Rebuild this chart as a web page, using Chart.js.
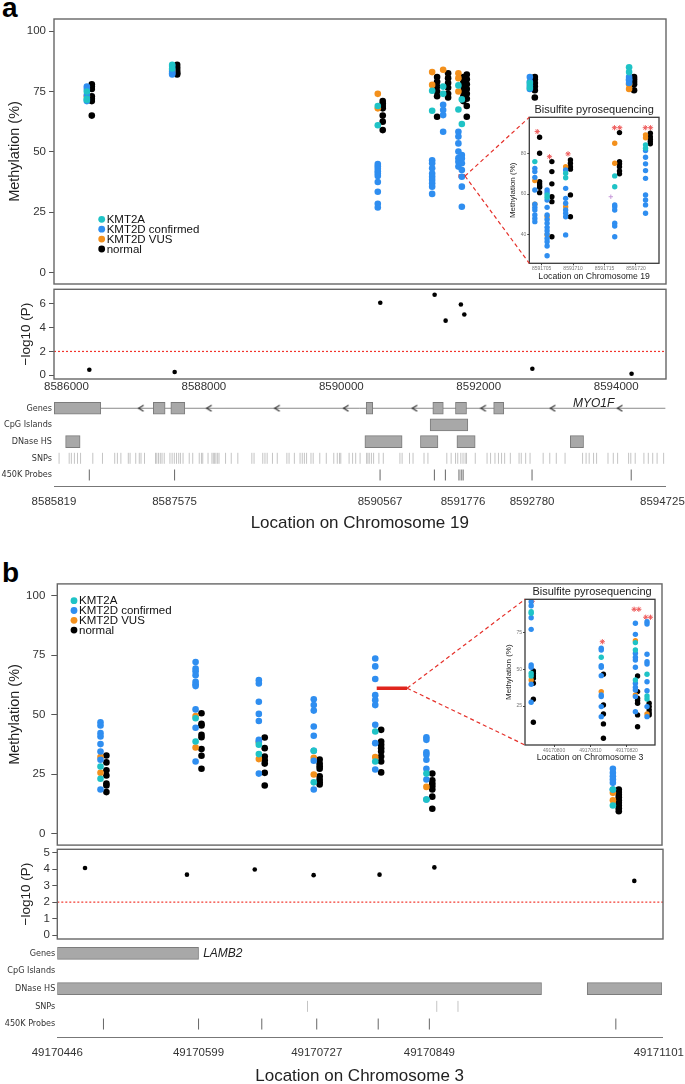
<!DOCTYPE html>
<html>
<head>
<meta charset="utf-8">
<title>Methylation at MYO1F and LAMB2</title>
<script src="https://cdn.jsdelivr.net/npm/chart.js@4.4.1/dist/chart.umd.min.js"></script>
<style>
  html, body { margin: 0; padding: 0; background: #fff; overflow: hidden; }
  #fig { position: relative; width: 685px; height: 1084px; background: #fff; overflow: hidden; }
  #fig canvas { position: absolute; }
  .panel { position: absolute; left: 2px; font: bold 28px 'Liberation Sans', Arial, sans-serif; line-height: 1; color: #000; }
</style>
</head>
<body>
<div id="fig">
  <div class="panel" style="top:-6px">a</div>
  <div class="panel" style="top:559px">b</div>
</div>
<script>
// ---- groups ----
const groupLabels = ['KMT2A', 'KMT2D confirmed', 'KMT2D VUS', 'normal'];
const groupColors = ['#1fc3c6', '#2f8ef0', '#f3901c', '#000000'];
const methylTicks = [0, 25, 50, 75, 100];

// ---- panel a : chromosome 19, MYO1F ----
const rangeA = [8585819, 8594725];
const colPosA = [8586333, 8587575, 8590567, 8591358, 8591518, 8591740, 8591790, 8592780, 8594224];
const kmt2aA = [[75, 72, 71.5], [86, 84.5], [69, 61], [75.3, 67], [77, 74], [77.5, 67.5], [71.7, 61.5], [78.5, 76.5], [85, 83]];
const kmt2dA = [[77, 76, 73.5, 71], [85.5, 84, 83, 82.5, 82], [45, 44, 43, 42, 41, 40, 37.5, 33.5, 28.5, 27],
  [46.5, 45.3, 43.2, 41, 39.7, 38.4, 37, 35.6, 32.6], [69.5, 67.3, 65.2, 58.3], [58.3, 56.3, 53.5, 50.1, 47.4, 45.9, 43.9],
  [48.7, 47.3, 45.3, 42.5, 39.7, 35.6, 27.3], [81, 79, 77.5, 76], [81, 80, 79.5, 78.5]];
const vusA = [[73], [83.5], [74, 68], [83, 77.7], [84], [82.5, 80.5, 75], [], [], [78, 76]];
const normalA = [[78, 77, 76, 73, 72, 71, 65], [86, 85, 84, 83, 82.5, 82], [71, 70, 69, 68, 65, 62.5, 59],
  [81, 79, 77, 75, 73, 64.5], [82.5, 80.5, 78.5, 76.5, 74, 72.5], [81, 79, 77, 75, 73, 71],
  [82, 80, 78, 76, 74, 72, 69, 64.5], [81, 80, 78.5, 77, 75.5, 72.5], [81, 80, 79, 78, 75.5]];
const pvalA = [0.47, 0.28, 6.08, 6.75, 4.58, 5.94, 5.1, 0.55, 0.13];
const pTicksA = [0, 2, 4, 6];
const xTicksA = [8586000, 8588000, 8590000, 8592000, 8594000];
const markerA = [8591705, 8591800];
const markerValA = 40;

const exonsA = [[8585823, 8586500], [8587265, 8587437], [8587520, 8587724], [8590365, 8590460], [8591335, 8591488], [8591665, 8591826], [8592221, 8592368]];
const intronA = [8585819, 8594725];
const arrowsA = [8587087, 8588078, 8589069, 8590071, 8591072, 8592072, 8593082, 8594059];
const cpgA = [[8591296, 8591845]];
const dnaseA = [[8585988, 8586199], [8590346, 8590888], [8591155, 8591410], [8591686, 8591952], [8593337, 8593530]];
const snpA = [8585893, 8586040, 8586072, 8586116, 8586161, 8586206, 8586384, 8586525, 8586703, 8586742, 8586793, 8586901,
  8586927, 8587009, 8587061, 8587086, 8587137, 8587297, 8587316, 8587341, 8587367, 8587392, 8587424, 8587507, 8587539,
  8587571, 8587603, 8587635, 8587660, 8587698, 8587788, 8587839, 8587934, 8587966, 8587985, 8588062, 8588119, 8588139,
  8588158, 8588177, 8588202, 8588222, 8588317, 8588400, 8588496, 8588700, 8588732, 8588859, 8588891, 8588923, 8589000,
  8589070, 8589210, 8589242, 8589319, 8589402, 8589434, 8589465, 8589497, 8589561, 8589593, 8589689, 8589784, 8589893,
  8589944, 8589976, 8589995, 8590116, 8590167, 8590212, 8590276, 8590371, 8590390, 8590410, 8590441, 8590473, 8590550,
  8590614, 8590856, 8590888, 8590996, 8591047, 8591207, 8591264, 8591539, 8591602, 8591666, 8591698, 8591743, 8591775,
  8591806, 8591826, 8591953, 8592125, 8592176, 8592240, 8592291, 8592336, 8592381, 8592464, 8592591, 8592623, 8592687,
  8592751, 8592942, 8593038, 8593133, 8593261, 8593516, 8593567, 8593612, 8593676, 8593720, 8593886, 8593963, 8594026,
  8594186, 8594218, 8594282, 8594409, 8594473, 8594537, 8594601, 8594696];
const probesA = [8586333, 8587575, 8590567, 8591358, 8591518, 8591716, 8591748, 8591776, 8592780, 8594224];
const trackTicksA = [8585819, 8587575, 8590567, 8591776, 8592780, 8594725];
const geneA = 'MYO1F';
const genePosA = 8593676;

// inset a: bisulfite pyrosequencing
const insRangeA = [8591703.04, 8591723.66];
const insPosA = [8591704.3, 8591706.25, 8591709.2, 8591717, 8591721.9];
const insKmt2aA = [[75.9], [59.6, 58.4], [70.2, 68], [68.9, 63.6], [84.1, 82.5]];
const insKmt2dA = [[72.6, 71, 68.2, 62, 55, 53.5, 52.2, 49.8, 48.1, 46.5],
  [62, 60.7, 57.1, 53.5, 49.8, 47.6, 45.7, 43.7, 42.1, 40.4, 38.3, 36.7, 34.6, 29.8],
  [71.8, 62.8, 57.9, 55.5, 52.2, 50.6, 48.9, 40], [54.7, 53.8, 52.2, 45.7, 44.4, 39.1],
  [81.3, 78, 74.8, 71.5, 67.7, 59.6, 57.1, 54.7, 50.6]];
const insVusA = [[66.6, 55], [48.9, 40], [73.4, 53.8], [84.9, 75.1], [89, 87.6]];
const insNormalA = [[87.8, 80, 66.1, 65, 64, 63.3, 60.7], [75.9, 71, 65, 58.7, 56.3, 39.1],
  [76.7, 75.1, 73.4, 72.2, 59.6, 48.9], [90.1, 75.9, 74.8, 73.4, 71.3, 69.9], [89.8, 88.1, 86.9, 85.7, 84.6]];
const insStarValA = [90.6, 78.3, 79.7, 92.5, 92.5];
const insStarsA = [1, 1, 1, 2, 2];
const insOutlierA = [{ x: 8591716.0, y: 58.7 }];
const insXTicksA = [8591705, 8591710, 8591715, 8591720];
const insYTicksA = [40, 60, 80];

// ---- panel b : chromosome 3, LAMB2 ----
const rangeB = [49170446, 49171101];
const pRangeB = [49170468, 49171080];
const colPosB = [49170496, 49170599, 49170667.5, 49170727, 49170793.6, 49170849, 49171051];
const kmt2aB = [[28.2, 23], [48.5, 38.7], [37.3, 33.4], [34.8, 21.5], [42.9, 30.3], [25.2, 14.3], [18.5, 11.8]];
const kmt2dB = [[46.8, 45.4, 42.2, 40.8, 37.6, 34.5, 31, 18.5], [72.1, 69.4, 68.2, 66.6, 63.8, 62.8, 62, 52.2, 44.5, 30.3],
  [64.5, 63.1, 55.4, 50.3, 47.3, 39.4, 38.7, 25.2], [56.5, 54, 51.7, 45, 41.1, 34.8, 30.6, 18.5],
  [73.6, 70.3, 65, 58.2, 56.1, 54, 45.7, 38, 26.9], [40.5, 39.4, 34.1, 33.1, 31, 27.2, 22.7, 14.3],
  [27.2, 25.5, 24.1, 22.7, 21.3, 18.5]];
const vusB = [[32.2, 25.5], [49.4, 36.2], [38.3, 31.3], [31.8, 24.8], [32.2], [19.6], [17.1, 14]];
const normalB = [[32.8, 29.9, 26.6, 24.4, 21, 20.2, 17.4], [50.6, 46.1, 45.4, 41.5, 40.5, 35.5, 32.7, 27.2],
  [40.4, 35.9, 32.4, 30.8, 29.4, 25.5, 20.2], [31.1, 29.4, 28.3, 27.2, 24.1, 22.7, 21.6, 20.6],
  [43.6, 38.7, 37.3, 35.9, 34.5, 32.4, 30.3, 25.7], [25.2, 22.4, 21, 19.9, 18.5, 15.5, 10.4],
  [18.5, 17.4, 16.3, 15.2, 14, 12.9, 11.8, 10.6, 9.4]];
const pvalB = [4.07, 3.67, 3.98, 3.64, 3.67, 4.11, 3.29];
const pTicksB = [0, 1, 2, 3, 4, 5];
const markerB = [49170792, 49170825];
const markerValB = 61.1;

const exonsB = [[49170446, 49170599]];
const arrowsB = [49170451, 49170456];
const cpgB = [];
const dnaseB = [[49170446, 49170970.5], [49171020, 49171101]];
const snpB = [49170717, 49170857, 49170880];
const probesB = [49170496, 49170599, 49170667.5, 49170727, 49170793.6, 49170849, 49171051];
const trackTicksB = [49170446, 49170599, 49170727, 49170849, 49171101];
const geneB = 'LAMB2';
const genePosB = 49170604;

// inset b
const insRangeB = [49170792, 49170827.8];
const insPosB = [49170794, 49170813.3, 49170822.7, 49170825.9];
const insKmt2aB = [[89, 87.9, 47.2, 45.4], [58.1], [68, 63, 42.7], [46.5, 31.8, 29.8]];
const insKmt2dB = [[95.7, 93, 84.9, 77, 52.8, 51.3, 39.8, 27.6], [64.2, 63, 52.4, 51.3, 45.6, 32.5, 31.4, 24.6, 17.8],
  [81.1, 73.6, 60.8, 58.1, 56.2, 51.3, 40.4, 37.7, 35.9, 31.4, 21.2], [82.2, 80.6, 60.1, 55.1, 53.5, 41.5, 35.4, 24.6, 17.8]];
const insVusB = [[42.7], [34.8], [69.3, 32.5], [19.6]];
const insNormalB = [[48.8, 47.2, 45.4, 43.8, 40.4, 29.6, 14], [46.5, 25.7, 19.6, 12.9, 3.2],
  [45.4, 34.8, 30.3, 28.7, 26.9, 19, 11], [26.9, 24.6, 22.4, 20.5, 19]];
const insStarValB = [96, 68.6, 90.6, 85.2];
const insStarsB = [1, 1, 2, 2];
const insXTicksB = [49170800, 49170810, 49170820];
const insYTicksB = [25, 50, 75];

const trackRows = ['Genes', 'CpG Islands', 'DNase HS', 'SNPs', '450K Probes'];
const pThreshold = 2;

// ---- helpers ----
const SANS = "'Liberation Sans', Arial, Helvetica, sans-serif";
const NARROW = "'Liberation Sans Narrow', 'DejaVu Sans Condensed', 'Liberation Sans', sans-serif";
Chart.defaults.font.family = SANS;

function addCanvas(left, top, w, h) {
  const c = document.createElement('canvas');
  c.width = w; c.height = h;
  c.style.left = left + 'px'; c.style.top = top + 'px';
  c.style.width = w + 'px'; c.style.height = h + 'px';
  document.getElementById('fig').appendChild(c);
  return c;
}

function fixedTicks(values) {
  return scale => { scale.ticks = values.map(v => ({ value: v })); };
}

function spread(pos, cols, off) {
  const pts = [];
  cols.forEach((vals, i) => vals.forEach(v => pts.push({ x: pos[i] + off, y: v })));
  return pts;
}

function groupSets(pos, groups, off, r) {
  return groups.map((cols, g) => ({
    label: groupLabels[g],
    data: spread(pos, cols, g === 3 ? off : -off),
    backgroundColor: groupColors[g],
    pointRadius: r,
    pointBorderWidth: 0
  }));
}

function starSet(pos, vals, counts, gap) {
  const pts = [];
  pos.forEach((p, i) => {
    if (counts[i] === 1) pts.push({ x: p, y: vals[i] });
    else { pts.push({ x: p - gap, y: vals[i] }); pts.push({ x: p + gap, y: vals[i] }); }
  });
  return { data: pts, pointStyle: 'star', pointRadius: 2.6, pointBorderColor: '#ee5b5b', pointBorderWidth: 1, backgroundColor: '#ee5b5b' };
}

function chevron(color) {
  const c = document.createElement('canvas');
  c.width = 8; c.height = 8;
  const g = c.getContext('2d');
  g.strokeStyle = color; g.lineWidth = 1.2;
  g.beginPath(); g.moveTo(6.5, 1); g.lineTo(1.5, 4); g.lineTo(6.5, 7); g.stroke();
  return c;
}

const boxPlugin = {
  id: 'box',
  afterDatasetsDraw(chart, args, opts) {
    const a = chart.chartArea, ctx = chart.ctx;
    ctx.save();
    ctx.strokeStyle = opts.color;
    ctx.lineWidth = opts.width;
    ctx.strokeRect(a.left, a.top, a.right - a.left, a.bottom - a.top);
    ctx.restore();
  }
};

const dotLegend = {
  id: 'dotLegend',
  afterDatasetsDraw(chart, args, opts) {
    const ctx = chart.ctx;
    ctx.save();
    ctx.font = '11.5px ' + SANS;
    ctx.textBaseline = 'middle';
    chart.data.datasets.filter(d => groupLabels.includes(d.label)).forEach((d, i) => {
      const y = opts.y + i * opts.gap;
      ctx.fillStyle = d.backgroundColor;
      ctx.beginPath(); ctx.arc(opts.x, y, 3.4, 0, Math.PI * 2); ctx.fill();
      ctx.fillStyle = '#111';
      ctx.fillText(d.label, opts.x + 5, y + 0.5);
    });
    ctx.restore();
  }
};

const insetTitle = {
  id: 'insetTitle',
  afterDraw(chart, args, opts) {
    const a = chart.chartArea, ctx = chart.ctx;
    ctx.save();
    ctx.font = '11px ' + SANS;
    ctx.fillStyle = '#222';
    ctx.textAlign = 'center'; ctx.textBaseline = 'middle';
    ctx.fillText('Bisulfite pyrosequencing', (a.left + a.right) / 2 + opts.dx, a.top - opts.dy);
    ctx.restore();
  }
};

const geneName = {
  id: 'geneName',
  afterDatasetsDraw(chart, args, opts) {
    const ctx = chart.ctx;
    const x = chart.scales.x.getPixelForValue(opts.pos);
    const y = chart.scales.y.getPixelForValue(0);
    ctx.save();
    ctx.font = 'italic 12px ' + SANS;
    ctx.fillStyle = '#222';
    ctx.textAlign = opts.align; ctx.textBaseline = opts.baseline;
    ctx.fillText(opts.text, x, y + opts.dy);
    ctx.restore();
  }
};

function yScale(min, max, ticks, width, title, titleSize, titlePad, tickLen, tickPad) {
  return {
    type: 'linear', min, max,
    afterBuildTicks: fixedTicks(ticks),
    afterFit: s => { s.width = width; },
    grid: { drawOnChartArea: false, drawTicks: true, tickLength: tickLen, color: '#555' },
    border: { display: false },
    ticks: { font: { size: 11.5 }, color: '#333', padding: tickPad, callback: v => String(v) },
    title: { display: true, text: title, color: '#222', font: { size: titleSize }, padding: { top: titlePad, bottom: 0 } }
  };
}

const quiet = { legend: { display: false }, tooltip: { enabled: false } };

function methylChart(rect, padding, xr, yr, yw, tickLen, tickPad, groups, pos, off, marker, markerVal, legendAt) {
  const c = addCanvas(...rect);
  const sets = groupSets(pos, groups, off, 3.3);
  sets.push({ data: [{ x: marker[0], y: markerVal }, { x: marker[1], y: markerVal }], showLine: true,
    borderColor: '#e0251d', borderWidth: 3.5, borderCapStyle: 'butt', pointRadius: 0 });
  return new Chart(c, {
    type: 'scatter',
    data: { datasets: sets },
    options: {
      responsive: false, animation: false, events: [],
      layout: { padding },
      scales: {
        x: { type: 'linear', display: false, min: xr[0], max: xr[1] },
        y: yScale(yr[0], yr[1], methylTicks, yw, 'Methylation (%)', 14.5, 6, tickLen, tickPad)
      },
      plugins: { ...quiet, box: { color: '#666', width: 1.4 }, dotLegend: legendAt }
    },
    plugins: [boxPlugin, dotLegend]
  });
}

function pvalChart(rect, padding, xr, yr, yw, yTicks, pos, vals, xTicks, xh, tickPad) {
  const c = addCanvas(...rect);
  const x = xTicks ? {
    type: 'linear', min: xr[0], max: xr[1],
    afterBuildTicks: fixedTicks(xTicks),
    afterFit: s => { s.height = xh; },
    grid: { display: false, drawTicks: false },
    border: { display: false },
    ticks: { font: { size: 11.5 }, color: '#333', padding: 1, maxRotation: 0, autoSkip: false, callback: v => String(v) }
  } : { type: 'linear', display: false, min: xr[0], max: xr[1] };
  return new Chart(c, {
    type: 'scatter',
    data: {
      datasets: [
        { data: pos.map((p, i) => ({ x: p, y: vals[i] })), backgroundColor: '#000', pointRadius: 2.3, pointBorderWidth: 0 },
        { data: [{ x: xr[0], y: pThreshold }, { x: xr[1], y: pThreshold }], showLine: true, borderColor: '#f2352c',
          borderWidth: 1.2, borderDash: [2, 2], pointRadius: 0 }
      ]
    },
    options: {
      responsive: false, animation: false, events: [],
      layout: { padding },
      scales: { x, y: yScale(yr[0], yr[1], yTicks, yw, '\u2212log10 (P)', 13.5, 18, 5, tickPad) },
      plugins: { ...quiet, box: { color: '#666', width: 1.4 } }
    },
    plugins: [boxPlugin]
  });
}

function trackChart(rect, padding, yw, xh, xr, yr, xTicks, xTitle, tickPad, parts, gene) {
  const c = addCanvas(...rect);
  const boxes = [];
  parts.exons.forEach(e => boxes.push({ x: e, y: 0 }));
  parts.cpg.forEach(e => boxes.push({ x: e, y: 1 }));
  parts.dnase.forEach(e => boxes.push({ x: e, y: 2 }));
  const sets = [
    { type: 'bar', indexAxis: 'y', data: boxes, barThickness: 12, backgroundColor: '#a8a8a8',
      borderColor: '#7c7c7c', borderWidth: 1, borderSkipped: false },
    { data: parts.arrows.map(x => ({ x, y: 0 })), pointStyle: chevron(parts.arrowColor), pointRadius: 4 },
    { data: parts.snps.map(x => ({ x, y: 3 })), pointStyle: 'line', pointRotation: 90, pointRadius: 5.5,
      pointBorderColor: '#c4c4c4', pointBorderWidth: 1 },
    { data: parts.probes.map(x => ({ x, y: 4 })), pointStyle: 'line', pointRotation: 90, pointRadius: 5.5,
      pointBorderColor: '#666', pointBorderWidth: 1 }
  ];
  if (parts.intron.length) {
    sets.push({ data: parts.intron.map(x => ({ x, y: 0 })), showLine: true, borderColor: '#8a8a8a', borderWidth: 1, pointRadius: 0 });
  }
  return new Chart(c, {
    type: 'scatter',
    data: { datasets: sets },
    options: {
      responsive: false, animation: false, events: [],
      layout: { padding },
      scales: {
        x: {
          type: 'linear', min: xr[0], max: xr[1], offset: false, beginAtZero: false,
          afterBuildTicks: fixedTicks(xTicks),
          afterFit: s => { s.height = xh; },
          grid: { display: false, drawTicks: false, offset: false },
          border: { display: true, color: '#777', width: 1 },
          // the last label is nudged left by a figure space so it stays inside the page
          ticks: { font: { size: 11.5 }, color: '#333', padding: tickPad, maxRotation: 0, autoSkip: false,
            callback: (v, i, arr) => i === arr.length - 1 ? String(v) + '\u2007' : String(v) },
          title: { display: true, text: xTitle, color: '#222', font: { size: 17 }, padding: { top: 0, bottom: 0 } }
        },
        y: {
          type: 'linear', reverse: true, min: yr[0], max: yr[1], offset: false,
          afterBuildTicks: fixedTicks([0, 1, 2, 3, 4]),
          afterFit: s => { s.width = yw; },
          grid: { display: false, drawTicks: false, offset: false },
          border: { display: false },
          ticks: { font: { family: NARROW, size: 9 }, color: '#333', padding: 2, callback: v => trackRows[v] }
        }
      },
      plugins: { ...quiet, geneName: gene }
    },
    plugins: [geneName]
  });
}

function insetChart(rect, padding, yw, xh, xr, yr, xTicks, yTicks, xTitle, yTitlePad, titleDx, sets) {
  const c = addCanvas(...rect);
  return new Chart(c, {
    type: 'scatter',
    data: { datasets: sets },
    options: {
      responsive: false, animation: false, events: [],
      layout: { padding },
      scales: {
        x: {
          type: 'linear', min: xr[0], max: xr[1],
          afterBuildTicks: fixedTicks(xTicks),
          afterFit: s => { s.height = xh; },
          grid: { drawOnChartArea: false, drawTicks: true, tickLength: 2, color: '#444' },
          border: { display: false },
          ticks: { font: { size: 5 }, color: '#777', padding: 0.5, maxRotation: 0, autoSkip: false, callback: v => String(v) },
          title: { display: true, text: xTitle, color: '#222', font: { size: 8.7 }, padding: { top: 0, bottom: 1.8 } }
        },
        y: {
          type: 'linear', min: yr[0], max: yr[1],
          afterBuildTicks: fixedTicks(yTicks),
          afterFit: s => { s.width = yw; },
          grid: { drawOnChartArea: false, drawTicks: true, tickLength: 2, color: '#444' },
          border: { display: false },
          ticks: { font: { size: 5 }, color: '#777', padding: 1, callback: v => String(v) },
          title: { display: true, text: 'Methylation (%)', color: '#222', font: { size: 8 }, padding: { top: yTitlePad, bottom: 0 } }
        }
      },
      plugins: { ...quiet, box: { color: '#3a3a3a', width: 1.3 }, insetTitle: { dx: titleDx, dy: 7.5 } }
    },
    plugins: [boxPlugin, insetTitle]
  });
}

function insetSets(pos, groups, off, stars, starVals, starGap, extra) {
  const sets = groupSets(pos, groups, off, 2.7);
  sets.push(starSet(pos, starVals, stars, starGap));
  if (extra) sets.push({ data: extra, pointStyle: 'cross', pointRadius: 2.2, pointBorderColor: '#c79ad9', pointBorderWidth: 1 });
  return sets;
}

// ---- panel a ----
const mA = methylChart([0, 7, 700, 290], { top: 12, right: 34, bottom: 13, left: 0 }, rangeA, [-4.68, 104.97], 54, 5, 3,
  [kmt2aA, kmt2dA, vusA, normalA], colPosA, 36, markerA, markerValA, { x: 101.7, y: 212.3, gap: 9.9 });

pvalChart([0, 277, 700, 120], { top: 12.3, right: 34, bottom: 0, left: 0 }, rangeA, [-0.31, 7.21], 54, pTicksA,
  colPosA, pvalA, xTicksA, 18, 3);

trackChart([0, 392, 700, 142], { top: 7.6, right: 34, bottom: 0, left: 0 }, 54, 48, rangeA, [-0.52, 4.66],
  trackTicksA, 'Location on Chromosome 19', 8.8,
  { exons: exonsA, cpg: cpgA, dnase: dnaseA, intron: intronA, arrows: arrowsA, arrowColor: '#333', snps: snpA, probes: probesA },
  { text: geneA, pos: genePosA, align: 'center', baseline: 'bottom', dy: 1 });

const iA = insetChart([498, 100, 166, 184], { top: 17.3, right: 1.3, bottom: 0, left: 0 }, 31.3, 20.7, insRangeA, [26.1, 97.6],
  insXTicksA, insYTicksA, 'Location on Chromosome 19', 10.2, 0,
  insetSets(insPosA, [insKmt2aA, insKmt2dA, insVusA, insNormalA], 0.38, insStarsA, insStarValA, 0.42, insOutlierA));

// ---- panel b ----
const mB = methylChart([0, 571, 700, 287], { top: 12, right: 38, bottom: 12, left: 0 }, rangeB, [-4.89, 105.0], 57.3, 6, 6,
  [kmt2aB, kmt2dB, vusB, normalB], colPosB, 3.2, markerB, markerValB, { x: 74, y: 29.7, gap: 9.8 });

pvalChart([0, 837, 700, 114], { top: 12.3, right: 37, bottom: 12, left: 0 }, pRangeB, [-0.24, 5.21], 57.3, pTicksB,
  colPosB, pvalB, null, 0, 2.5);

trackChart([0, 937, 700, 150], { top: 7.5, right: 38, bottom: 0, left: 0 }, 57.3, 49.7, rangeB, [-0.5, 4.75],
  trackTicksB, 'Location on Chromosome 3', 9,
  { exons: exonsB, cpg: cpgB, dnase: dnaseB, intron: [], arrows: arrowsB, arrowColor: '#111', snps: snpB, probes: probesB },
  { text: geneB, pos: genePosB, align: 'left', baseline: 'middle', dy: 0 });

const iB = insetChart([490, 582, 170, 183], { top: 17.3, right: 5, bottom: 0, left: 0 }, 35, 20, insRangeB, [-1.42, 97.36],
  insXTicksB, insYTicksB, 'Location on Chromosome 3', 13.5, 2,
  insetSets(insPosB, [insKmt2aB, insKmt2dB, insVusB, insNormalB], 0.3, insStarsB, insStarValB, 0.65, null));

// ---- zoom connectors from the red marker to the inset ----
const overlay = addCanvas(0, 0, 685, 1084);
const octx = overlay.getContext('2d');
function connector(main, mainTop, marker, value, inset, insetLeft, insetTop) {
  const x0 = main.scales.x.getPixelForValue(marker[1]);
  const y0 = mainTop + main.scales.y.getPixelForValue(value);
  const a = inset.chartArea;
  octx.save();
  octx.strokeStyle = '#e5302a'; octx.lineWidth = 1.2; octx.setLineDash([4, 3]);
  [a.top, a.bottom].forEach(yy => {
    octx.beginPath(); octx.moveTo(x0, y0); octx.lineTo(insetLeft + a.left, insetTop + yy); octx.stroke();
  });
  octx.restore();
}
connector(mA, 7, markerA, markerValA, iA, 498, 100);
connector(mB, 571, markerB, markerValB, iB, 490, 582);
</script>
</body>
</html>
